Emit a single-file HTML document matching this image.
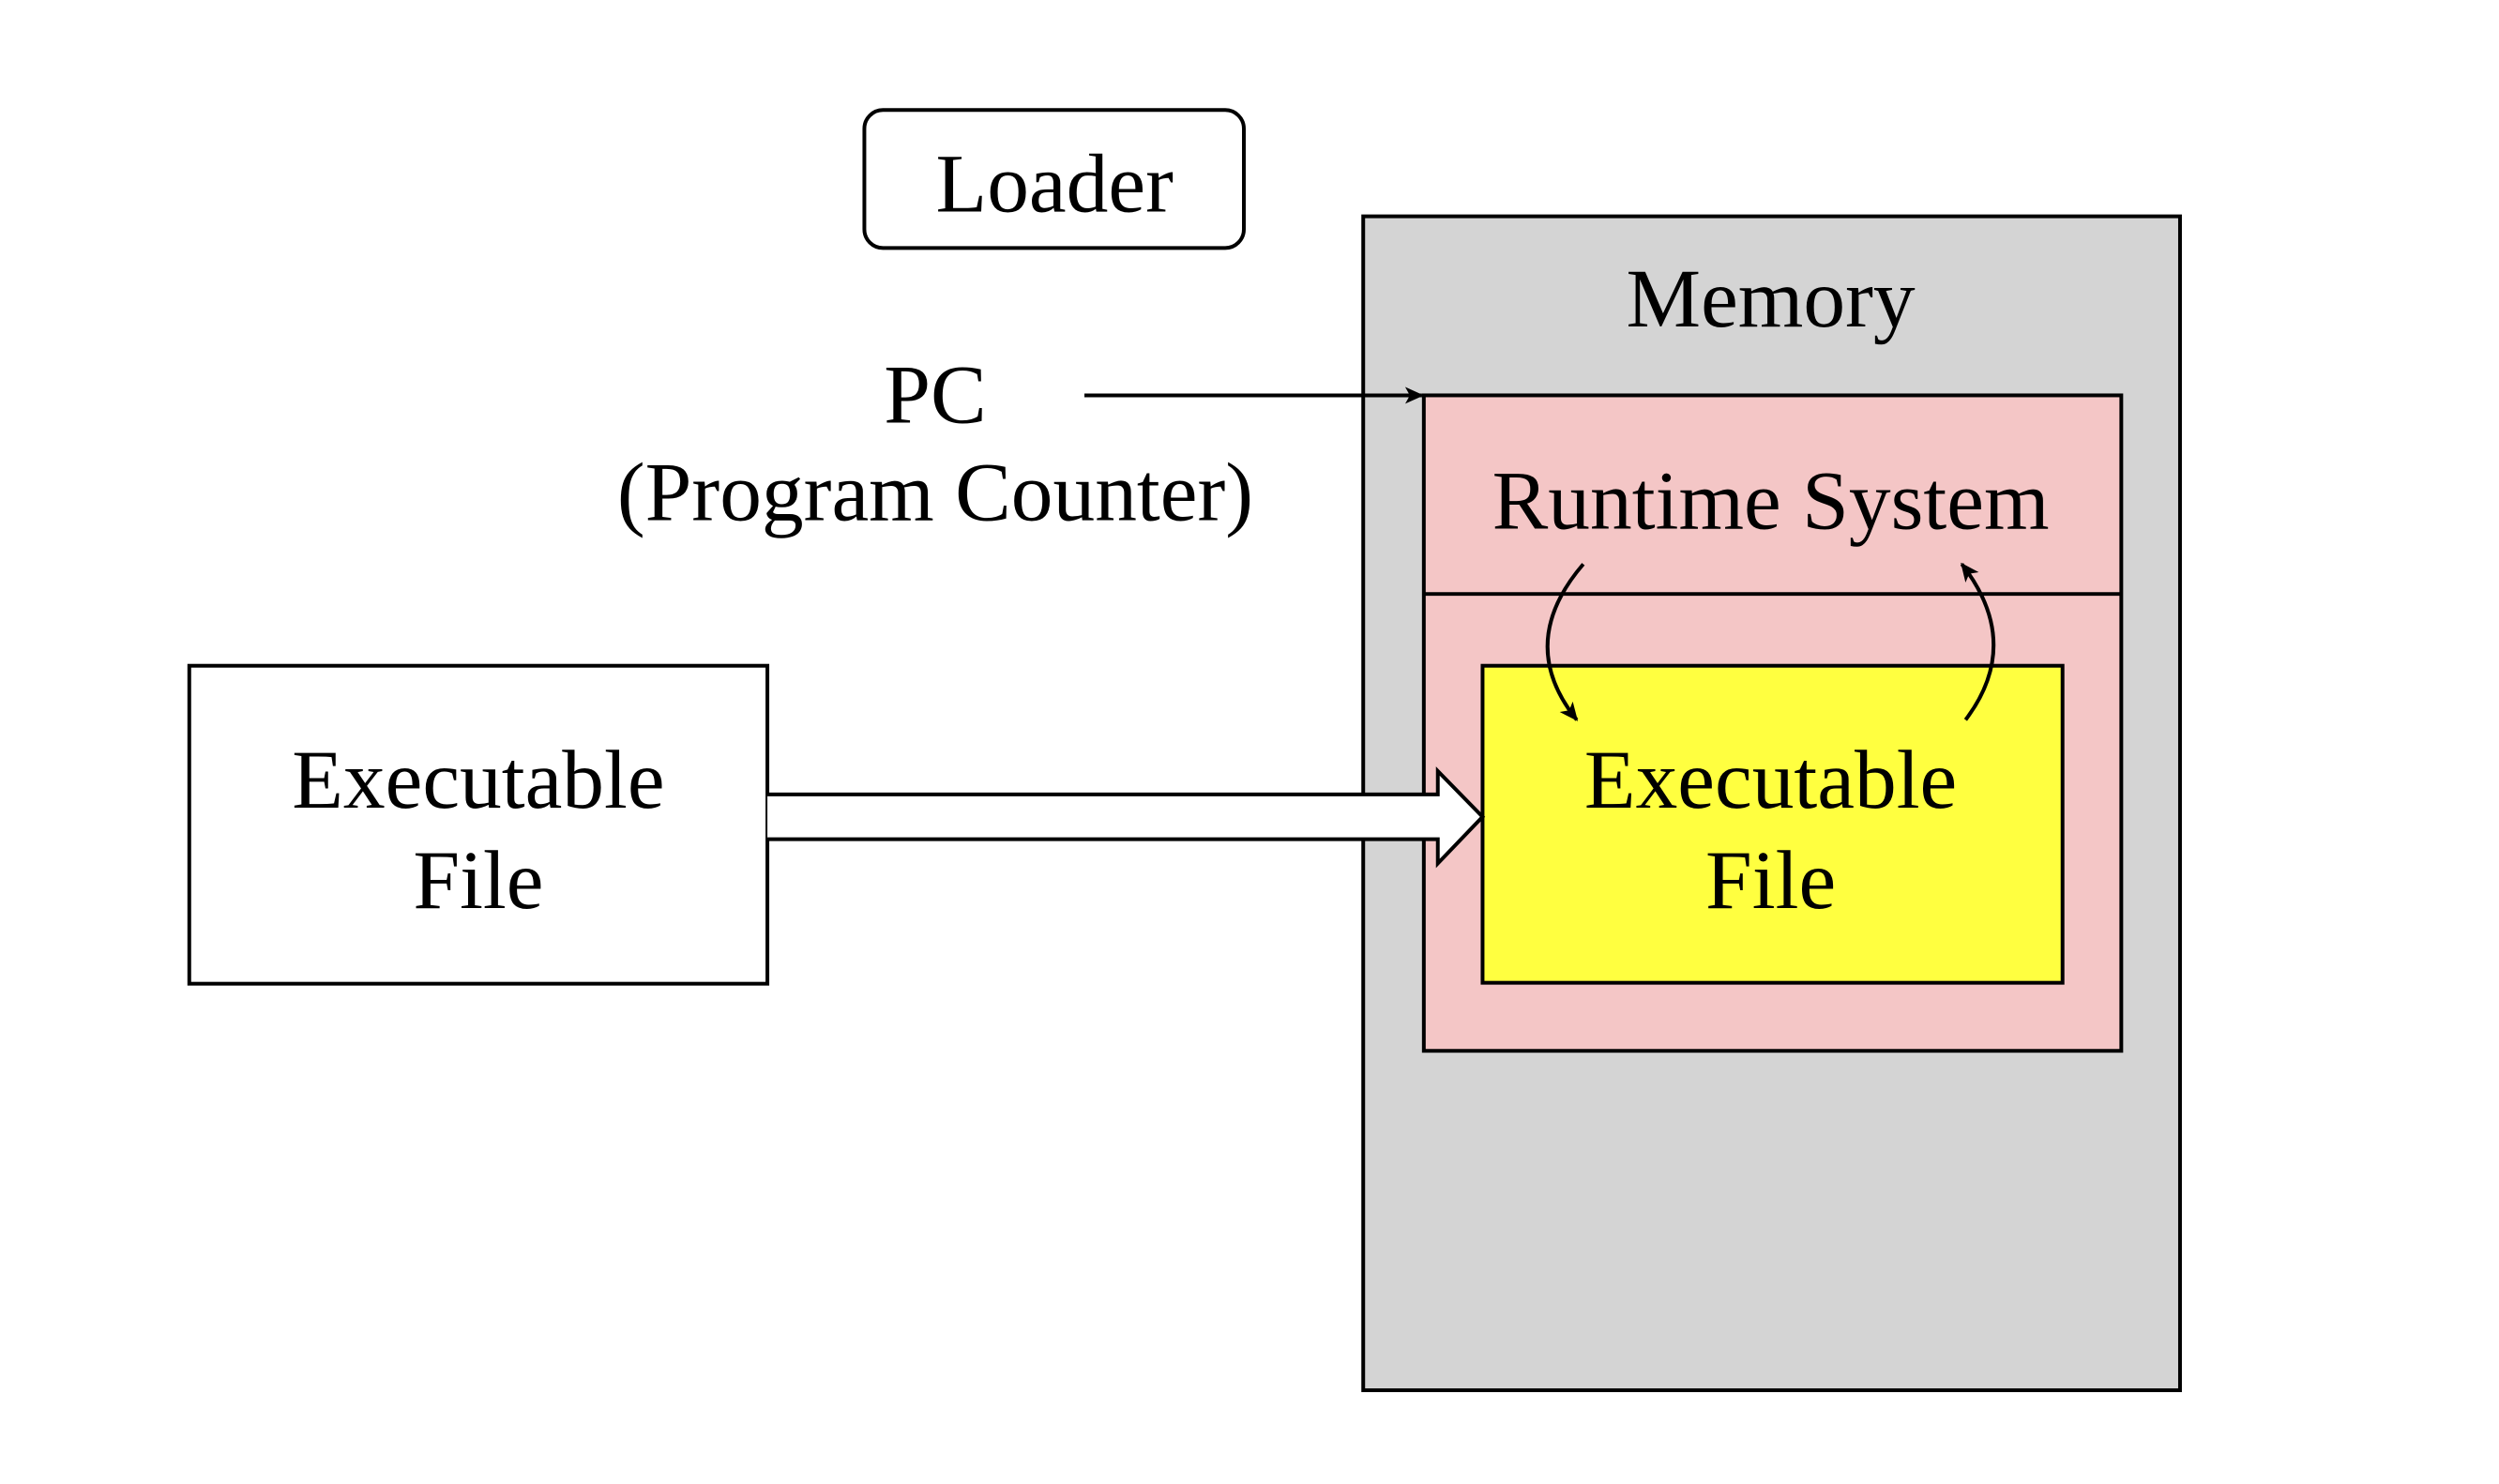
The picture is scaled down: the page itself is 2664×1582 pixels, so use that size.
<!DOCTYPE html>
<html><head><style>
html,body{margin:0;padding:0;background:#fff;}
svg{display:block;}
text{font-family:"Liberation Serif",serif;font-size:90px;fill:#000;text-anchor:middle;}
</style></head><body>
<svg width="2664" height="1582" viewBox="0 0 2664 1582" xmlns="http://www.w3.org/2000/svg">
<defs>
<marker id="ah2" markerWidth="22" markerHeight="22" refX="18" refY="11" orient="auto" markerUnits="userSpaceOnUse">
<path d="M0,2 L20,11 L0,20 L5,11 Z" fill="#000"/>
</marker>
</defs>
<g transform="scale(0.994)">
<rect x="927" y="118" width="407" height="148" rx="20" fill="#fff" stroke="#000" stroke-width="4"/>
<text x="1131" y="227">Loader</text>
<rect x="1462" y="232" width="876" height="1259" fill="#d4d4d4" stroke="#000" stroke-width="4"/>
<text x="1899" y="350">Memory</text>
<rect x="1527" y="424" width="748" height="703" fill="#f4c6c6" stroke="#000" stroke-width="4"/>
<line x1="1527" y1="637" x2="2275" y2="637" stroke="#000" stroke-width="4"/>
<text x="1899" y="567">Runtime System</text>
<rect x="1590" y="714" width="622" height="340" fill="#ffff40" stroke="#000" stroke-width="4"/>
<text x="1899" y="866">Executable</text>
<text x="1899" y="974">File</text>
<rect x="203" y="714" width="620" height="341" fill="#fff" stroke="#000" stroke-width="4"/>
<text x="513" y="866">Executable</text>
<text x="513" y="974">File</text>
<path d="M823,852 L1542,852 L1542,827 L1590,876 L1542,926 L1542,900 L823,900" fill="#fff" stroke="#000" stroke-width="4"/>
<text x="1003" y="453">PC</text>
<text x="1003" y="558">(Program Counter)</text>
<line x1="1163" y1="424" x2="1525" y2="424" stroke="#000" stroke-width="4" marker-end="url(#ah2)"/>
<path d="M1698,605 Q1625,690 1691,772" fill="none" stroke="#000" stroke-width="4" marker-end="url(#ah2)"/>
<path d="M2108,772 Q2170,690 2104,605" fill="none" stroke="#000" stroke-width="4" marker-end="url(#ah2)"/>
</g>
</svg>
</body></html>
